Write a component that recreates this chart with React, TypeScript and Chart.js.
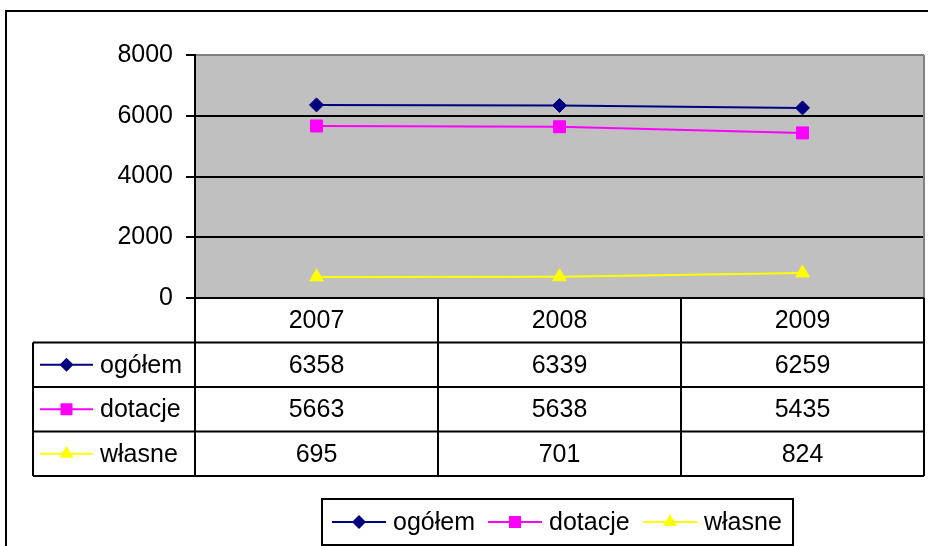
import React, { useEffect, useRef } from "react";
import { Chart, registerables } from "chart.js";

Chart.register(...registerables);

const years = ["2007", "2008", "2009"];
const seriesNames = ["ogółem", "dotacje", "własne"];
const ogolem = [6358, 6339, 6259];
const dotacje = [5663, 5638, 5435];
const wlasne = [695, 701, 824];
const yTicks = [0, 2000, 4000, 6000, 8000];

const seriesValues = [ogolem, dotacje, wlasne];
const seriesColors = ["#000080", "#FF00FF", "#FFFF00"];
const seriesShapes = ["diamond", "square", "triangle"];

const FONT_FAMILY = '"Liberation Sans", Arial, sans-serif';
const FONT_SIZE = 25;
const FONT = `${FONT_SIZE}px ${FONT_FAMILY}`;

function drawMarker(ctx: CanvasRenderingContext2D, shape: string, x: number, y: number, color: string) {
  ctx.save();
  ctx.fillStyle = color;
  ctx.beginPath();
  if (shape === "diamond") {
    const r = 7;
    ctx.moveTo(x - r, y);
    ctx.lineTo(x, y - r);
    ctx.lineTo(x + r, y);
    ctx.lineTo(x, y + r);
  } else if (shape === "square") {
    const h = 6;
    ctx.rect(x - h, y - h, 2 * h, 2 * h);
  } else {
    const r = 8;
    ctx.moveTo(x, y - r);
    ctx.lineTo(x + r * 0.866, y + r * 0.5);
    ctx.lineTo(x - r * 0.866, y + r * 0.5);
  }
  ctx.closePath();
  ctx.fill();
  ctx.restore();
}

function drawSymbol(ctx: CanvasRenderingContext2D, i: number, x0: number, len: number, y: number) {
  ctx.save();
  ctx.strokeStyle = seriesColors[i];
  ctx.lineWidth = 2;
  ctx.beginPath();
  ctx.moveTo(x0, y);
  ctx.lineTo(x0 + len, y);
  ctx.stroke();
  ctx.restore();
  drawMarker(ctx, seriesShapes[i], x0 + len / 2, y, seriesColors[i]);
}

const tablePlugin = {
  id: "excelTable",
  beforeDraw(chart: any) {
    const { ctx, chartArea } = chart;
    ctx.save();
    ctx.fillStyle = "#FFFFFF";
    ctx.fillRect(0, 0, chart.width, chart.height);
    ctx.fillStyle = "#C0C0C0";
    ctx.fillRect(chartArea.left, chartArea.top, chartArea.right - chartArea.left, chartArea.bottom - chartArea.top);
    ctx.restore();
  },
  afterDraw(chart: any) {
    const { ctx, chartArea } = chart;
    const xs = chart.scales.x;
    const left = chartArea.left;
    const right = chartArea.right;
    const top = chartArea.bottom;
    const rowH = 44.5;
    const labelLeft = 33;
    const n = years.length;
    const colW = (right - left) / n;
    const tableBottom = top + rowH * (seriesNames.length + 1);

    ctx.save();
    // outer chart border
    ctx.strokeStyle = "#000";
    ctx.lineWidth = 2;
    ctx.beginPath();
    ctx.moveTo(6, chart.height);
    ctx.lineTo(6, 11);
    ctx.lineTo(chart.width, 11);
    ctx.stroke();

    // plot right border (gray)
    ctx.strokeStyle = "#808080";
    ctx.lineWidth = 2;
    ctx.beginPath();
    ctx.moveTo(right, chartArea.top);
    ctx.lineTo(right, chartArea.bottom);
    ctx.stroke();

    // table grid
    ctx.strokeStyle = "#000";
    ctx.lineWidth = 2;
    ctx.beginPath();
    ctx.moveTo(left, top);
    ctx.lineTo(right, top);
    for (let r = 1; r <= seriesNames.length + 1; r++) {
      const y = top + rowH * r;
      ctx.moveTo(labelLeft, y);
      ctx.lineTo(right, y);
    }
    for (let c = 0; c <= n; c++) {
      const x = left + colW * c;
      ctx.moveTo(x, top);
      ctx.lineTo(x, tableBottom);
    }
    ctx.moveTo(labelLeft, top + rowH);
    ctx.lineTo(labelLeft, tableBottom);
    ctx.stroke();

    ctx.fillStyle = "#000";
    ctx.font = FONT;
    ctx.textBaseline = "middle";
    ctx.textAlign = "center";
    years.forEach((yr, c) => {
      const cx = xs.getPixelForValue(c);
      ctx.fillText(yr, cx, top + rowH / 2 + 1);
    });
    seriesNames.forEach((name, i) => {
      const cy = top + rowH * (i + 1) + rowH / 2 + 1;
      ctx.textAlign = "center";
      seriesValues[i].forEach((v, c) => {
        const cx = xs.getPixelForValue(c);
        ctx.fillText(String(v), cx, cy);
      });
      drawSymbol(ctx, i, 40, 53, cy - 1);
      ctx.fillStyle = "#000";
      ctx.textAlign = "left";
      ctx.fillText(name, 100, cy);
    });

    // legend
    const lx0 = 322, lx1 = 793, ly0 = 499, ly1 = 545;
    ctx.strokeStyle = "#000";
    ctx.lineWidth = 2;
    ctx.strokeRect(lx0, ly0, lx1 - lx0, ly1 - ly0);
    const ly = (ly0 + ly1) / 2;
    const starts = [332, 488, 643];
    seriesNames.forEach((name, i) => {
      drawSymbol(ctx, i, starts[i], 54, ly);
      ctx.fillStyle = "#000";
      ctx.textAlign = "left";
      ctx.fillText(name, starts[i] + 61, ly + 1);
    });
    ctx.restore();
  },
};

export default function App() {
  const ref = useRef<HTMLCanvasElement | null>(null);
  useEffect(() => {
    if (!ref.current) return;
    const chart = new Chart(ref.current, {
      type: "line",
      data: {
        labels: years,
        datasets: [
          {
            label: seriesNames[0],
            data: ogolem,
            borderColor: seriesColors[0],
            backgroundColor: seriesColors[0],
            borderWidth: 2,
            pointStyle: "rectRot",
            pointRadius: 7,
            pointBorderWidth: 1,
          },
          {
            label: seriesNames[1],
            data: dotacje,
            borderColor: seriesColors[1],
            backgroundColor: seriesColors[1],
            borderWidth: 2,
            pointStyle: "rect",
            pointRadius: 8.5,
            pointBorderWidth: 1,
          },
          {
            label: seriesNames[2],
            data: wlasne,
            borderColor: seriesColors[2],
            backgroundColor: seriesColors[2],
            borderWidth: 2,
            pointStyle: "triangle",
            pointRadius: 8,
            pointBorderWidth: 1,
          },
        ],
      },
      options: {
        responsive: false,
        animation: false,
        layout: { autoPadding: false, padding: { left: 0, top: 55, right: 4, bottom: 248 } },
        plugins: {
          legend: { display: false },
          tooltip: { enabled: false },
        },
        scales: {
          x: {
            type: "category",
            display: false,
            offset: true,
          },
          y: {
            min: 0,
            max: 8000,
            afterBuildTicks: (axis: any) => {
              axis.ticks = yTicks.map((v) => ({ value: v }));
            },
            afterFit: (axis: any) => {
              axis.width = 195;
            },
            ticks: {
              color: "#000",
              font: { family: FONT_FAMILY, size: FONT_SIZE },
              padding: 13,
              callback: (v: any) => String(v),
            },
            grid: {
              color: (c: any) => (c.tick && c.tick.value === 8000 ? "#808080" : "#000"),
              lineWidth: 2,
              tickLength: 9,
              tickColor: "#000",
              tickWidth: 2,
            },
            border: { display: true, color: "#000", width: 2 },
          },
        },
      },
      plugins: [tablePlugin],
    } as any);
    return () => chart.destroy();
  }, []);
  return (
    <div style={{ position: "absolute", left: 0, top: 0, width: 928, height: 546 }}>
      <canvas ref={ref} width={928} height={546} />
    </div>
  );
}
